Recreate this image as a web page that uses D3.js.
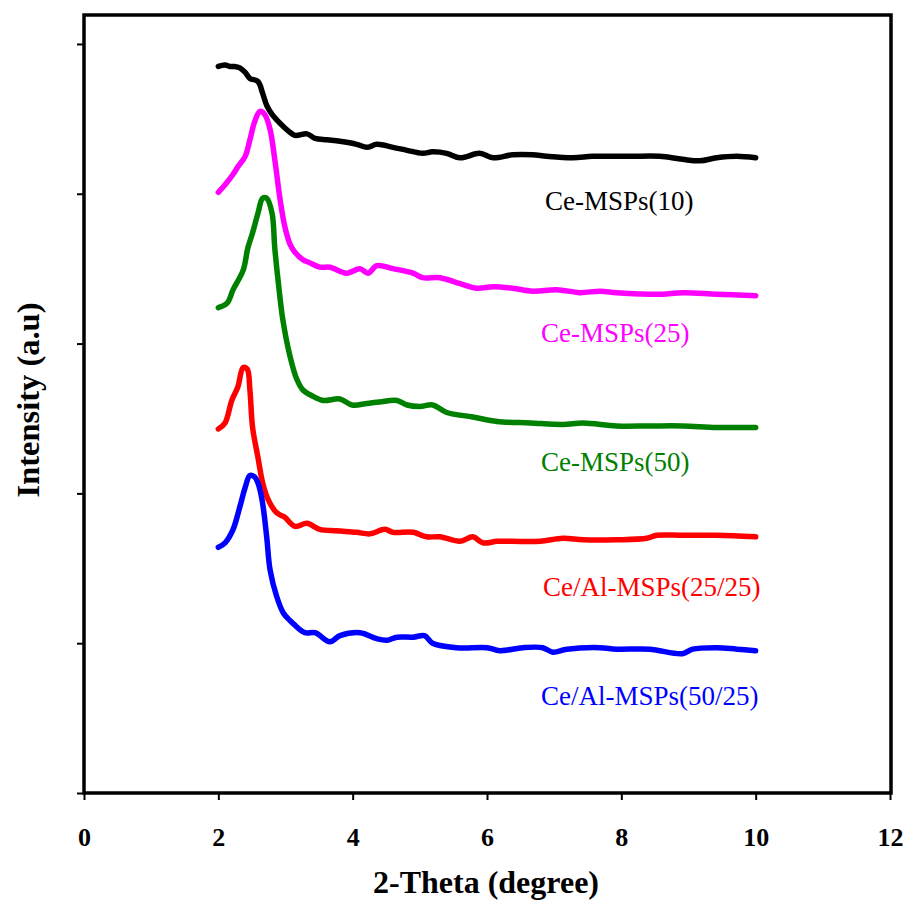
<!DOCTYPE html>
<html>
<head>
<meta charset="utf-8">
<script src="https://cdn.jsdelivr.net/npm/d3@7/dist/d3.min.js"></script>
<style>
  html, body { margin: 0; padding: 0; background: #fff; }
  svg { display: block; }
</style>
</head>
<body>
<svg id="chart" width="909" height="906"></svg>
<script>
// Low-angle XRD patterns (2θ vs intensity, stacked, arbitrary units)
const sampleNames = ["Ce-MSPs(10)", "Ce-MSPs(25)", "Ce-MSPs(50)", "Ce/Al-MSPs(25/25)", "Ce/Al-MSPs(50/25)"];
const sampleColors = ["#000000", "#ff00ff", "#008000", "#ff0000", "#0000ff"];

const xTicks = [0, 2, 4, 6, 8, 10, 12];
const yTicks = [0, 1, 2, 3, 4, 5];

const ceMSPs10 = [
  [2.00,4.85],[2.10,4.86],[2.17,4.85],[2.24,4.85],[2.32,4.84],[2.40,4.81],[2.47,4.77],[2.59,4.75],
  [2.66,4.67],[2.72,4.59],[2.80,4.53],[2.92,4.47],[3.04,4.42],[3.14,4.39],[3.32,4.40],[3.44,4.37],
  [3.62,4.36],[3.81,4.35],[4.06,4.33],[4.21,4.31],[4.36,4.33],[4.60,4.31],[4.81,4.29],[5.04,4.27],
  [5.19,4.28],[5.40,4.27],[5.60,4.24],[5.89,4.27],[6.09,4.24],[6.38,4.26],[6.68,4.26],[6.89,4.25],
  [7.28,4.24],[7.57,4.25],[7.93,4.25],[8.17,4.25],[8.57,4.25],[8.91,4.23],[9.17,4.22],[9.42,4.24],
  [9.72,4.25],[10.00,4.24]
];
const ceMSPs25 = [
  [2.00,4.01],[2.10,4.06],[2.22,4.13],[2.29,4.18],[2.40,4.25],[2.47,4.36],[2.54,4.48],[2.62,4.55],
  [2.69,4.53],[2.77,4.43],[2.84,4.23],[2.92,3.96],[2.99,3.78],[3.07,3.66],[3.14,3.61],[3.26,3.56],
  [3.36,3.54],[3.51,3.51],[3.66,3.51],[3.91,3.47],[4.11,3.50],[4.23,3.47],[4.36,3.52],[4.60,3.50],
  [4.90,3.47],[5.04,3.44],[5.30,3.44],[5.60,3.40],[5.85,3.37],[6.09,3.38],[6.38,3.37],[6.68,3.35],
  [7.04,3.36],[7.38,3.34],[7.68,3.35],[7.93,3.34],[8.42,3.33],[8.62,3.33],[8.91,3.34],[9.42,3.33],
  [10.00,3.32]
];
const ceMSPs50 = [
  [2.00,3.24],[2.13,3.27],[2.22,3.36],[2.37,3.49],[2.44,3.64],[2.51,3.74],[2.59,3.87],[2.66,3.97],
  [2.72,3.97],[2.80,3.87],[2.84,3.64],[2.89,3.42],[2.96,3.16],[3.07,2.91],[3.17,2.76],[3.26,2.69],
  [3.40,2.65],[3.56,2.62],[3.81,2.63],[3.99,2.59],[4.21,2.60],[4.40,2.61],[4.66,2.62],[4.81,2.59],
  [5.00,2.58],[5.19,2.59],[5.40,2.54],[5.79,2.51],[6.15,2.48],[6.64,2.47],[7.13,2.46],[7.43,2.47],
  [7.93,2.45],[8.42,2.45],[8.91,2.45],[9.42,2.44],[10.00,2.44]
];
const ceAl2525 = [
  [2.00,2.43],[2.10,2.47],[2.20,2.62],[2.29,2.71],[2.37,2.84],[2.43,2.83],[2.47,2.69],[2.51,2.44],
  [2.59,2.24],[2.66,2.07],[2.74,1.96],[2.87,1.87],[2.99,1.84],[3.14,1.78],[3.32,1.80],[3.51,1.76],
  [3.76,1.75],[4.06,1.74],[4.26,1.73],[4.48,1.76],[4.60,1.74],[4.90,1.74],[5.10,1.71],[5.30,1.71],
  [5.60,1.68],[5.79,1.71],[5.94,1.67],[6.15,1.68],[6.38,1.68],[6.79,1.68],[7.13,1.70],[7.43,1.69],
  [7.93,1.69],[8.38,1.70],[8.53,1.72],[8.91,1.72],[9.42,1.72],[10.00,1.71]
];
const ceAl5025 = [
  [2.00,1.64],[2.10,1.67],[2.22,1.76],[2.32,1.91],[2.40,2.04],[2.47,2.12],[2.54,2.11],[2.59,2.07],
  [2.65,1.96],[2.72,1.71],[2.77,1.49],[2.87,1.31],[2.97,1.20],[3.07,1.15],[3.14,1.12],[3.29,1.07],
  [3.44,1.07],[3.66,1.01],[3.81,1.05],[4.11,1.07],[4.36,1.03],[4.51,1.02],[4.66,1.04],[4.90,1.04],
  [5.07,1.05],[5.19,1.00],[5.55,0.97],[6.00,0.97],[6.19,0.95],[6.53,0.97],[6.83,0.97],[6.98,0.94],
  [7.19,0.96],[7.68,0.97],[7.93,0.96],[8.42,0.96],[8.91,0.93],[9.06,0.96],[9.42,0.97],[9.72,0.96],
  [10.00,0.95]
];
const patterns = [ceMSPs10, ceMSPs25, ceMSPs50, ceAl2525, ceAl5025];

// layout
const plot = { left: 84, right: 890, top: 14, bottom: 793 };
const labelAnchors = [[545, 210], [541, 342], [541, 471], [543, 596], [541, 705]];
const serif = "'Liberation Serif', 'Times New Roman', Times, serif";

const svg = d3.select("#chart");

const x = d3.scaleLinear().domain([0, 12]).range([plot.left, plot.right]);
const y = d3.scaleLinear().domain([0, 5.2]).range([plot.bottom, plot.top]);

// x axis ticks + labels
const xAxis = d3.axisBottom(x).tickValues(xTicks).tickSize(7).tickPadding(28).tickFormat(d3.format("d"));
const gx = svg.append("g").attr("transform", `translate(0,${plot.bottom})`).call(xAxis);
gx.select(".domain").remove();
gx.selectAll(".tick line").attr("stroke", "#000").attr("stroke-width", 2);
gx.selectAll(".tick text")
  .attr("font-family", serif).attr("font-weight", "bold").attr("font-size", "26px").attr("fill", "#000");

// y axis ticks (unlabelled)
const yAxis = d3.axisLeft(y).tickValues(yTicks).tickSize(7).tickFormat("");
const gy = svg.append("g").attr("transform", `translate(${plot.left},0)`).call(yAxis);
gy.select(".domain").remove();
gy.selectAll(".tick line").attr("stroke", "#000").attr("stroke-width", 2);

// diffraction patterns
const line = d3.line()
  .x(d => x(d[0]))
  .y(d => y(d[1]))
  .curve(d3.curveCatmullRom.alpha(0.5));

svg.append("g").selectAll("path")
  .data(patterns)
  .join("path")
  .attr("d", line)
  .attr("fill", "none")
  .attr("stroke", (d, i) => sampleColors[i])
  .attr("stroke-width", 5.5)
  .attr("stroke-linecap", "round")
  .attr("stroke-linejoin", "round");

// sample labels
svg.append("g").selectAll("text")
  .data(sampleNames)
  .join("text")
  .attr("x", (d, i) => labelAnchors[i][0])
  .attr("y", (d, i) => labelAnchors[i][1])
  .attr("fill", (d, i) => sampleColors[i])
  .attr("font-family", serif)
  .attr("font-size", "27px")
  .text(d => d);

// plot frame
svg.append("rect")
  .attr("x", plot.left).attr("y", plot.top + 1)
  .attr("width", plot.right - plot.left + 1).attr("height", plot.bottom - plot.top - 1)
  .attr("fill", "none").attr("stroke", "#000").attr("stroke-width", 3.5);

// axis titles
svg.append("text")
  .attr("x", 486).attr("y", 893)
  .attr("text-anchor", "middle")
  .attr("font-family", serif).attr("font-weight", "bold").attr("font-size", "32px")
  .text("2-Theta (degree)");

svg.append("text")
  .attr("transform", `translate(39,400) rotate(-90)`)
  .attr("text-anchor", "middle")
  .attr("font-family", serif).attr("font-weight", "bold").attr("font-size", "32.5px")
  .text("Intensity (a.u)");
</script>
</body>
</html>
